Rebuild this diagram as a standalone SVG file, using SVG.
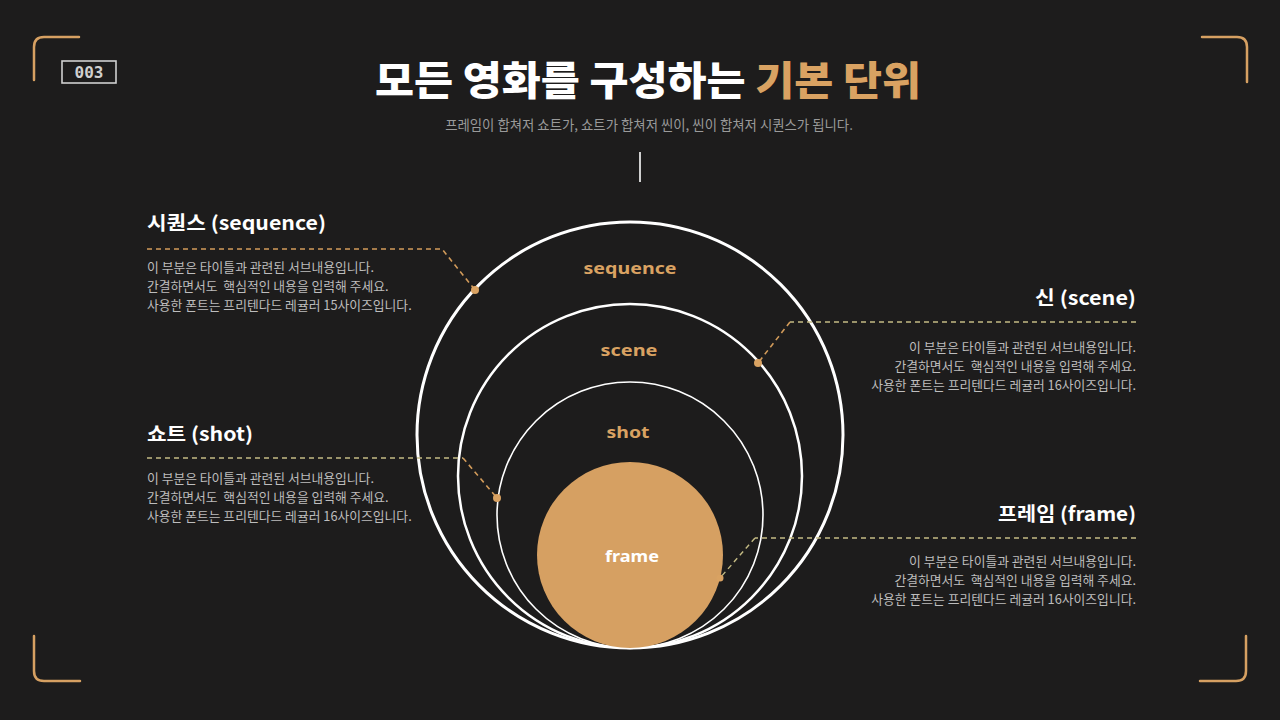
<svg xmlns="http://www.w3.org/2000/svg" width="1280" height="720" viewBox="0 0 1280 720">
<style>
.bg{fill:#1d1c1c}
.corner{fill:none;stroke:#d6a062;stroke-width:2.5;stroke-linecap:round}
.ring{fill:none;stroke:#ffffff}
.ttl{font-family:"Noto Sans CJK KR","Noto Sans",sans-serif;font-weight:900;fill:#ffffff}
.lbl{font-family:"Noto Sans CJK KR","Noto Sans",sans-serif;font-weight:700;fill:#ffffff;font-size:19px}
.body{font-family:"Noto Sans CJK KR","Noto Sans",sans-serif;font-size:12.8px;fill:#bdbdbd}
.inner{font-family:"Noto Sans","Noto Sans CJK KR",sans-serif;font-weight:700;font-size:16px;text-anchor:middle;fill:#d9a262}
.inner.w{fill:#ffffff}
.dashO{fill:none;stroke:#d29b5a;stroke-width:1.6;stroke-dasharray:5 4}
.dashY{fill:none;stroke:#c4bb84;stroke-width:1.4;stroke-dasharray:5 4}
.dot{fill:#d9a262}
</style>
<rect class="bg" x="0" y="0" width="1280" height="720"/>

<g id="corners">
<path class="corner" d="M34 80 V47 Q34 37 44 37 H79"/>
<path class="corner" d="M1202 37 H1237 Q1247 37 1247 47 V82"/>
<path class="corner" d="M34 636 V671 Q34 681 44 681 H80"/>
<path class="corner" d="M1246 636 V671 Q1246 681 1236 681 H1200"/>
</g>

<g id="page-number">
<rect x="62" y="61" width="54" height="22" fill="none" stroke="#d0d0d0" stroke-width="1.6"/>
<text x="89" y="78" text-anchor="middle" font-family="DejaVu Sans Mono,monospace" font-weight="700" font-size="16" fill="#d0d0d0">003</text>
</g>

<g id="title">
<text class="ttl" x="375" y="95" font-size="40" textLength="546" lengthAdjust="spacingAndGlyphs">모든 영화를 구성하는 <tspan fill="#d9a262">기본 단위</tspan></text>
<text x="649" y="130" text-anchor="middle" font-family="Noto Sans CJK KR,sans-serif" font-size="13.4" fill="#9a9a9a">프레임이 합쳐저 쇼트가, 쇼트가 합쳐저 씬이, 씬이 합쳐저 시퀀스가 됩니다.</text>
<line x1="640" y1="152" x2="640" y2="182" stroke="#cfcfcf" stroke-width="2"/>
</g>

<g id="circles">
<circle id="sequence-ring" class="ring" cx="630" cy="435" r="213" stroke-width="3"/>
<circle id="scene-ring" class="ring" cx="630" cy="476" r="172" stroke-width="2.5"/>
<circle id="shot-ring" class="ring" cx="630" cy="515" r="133" stroke-width="1.6"/>
<circle id="frame-disc" cx="630" cy="555" r="93" fill="#d6a062"/>
<text class="inner" x="630" y="274" textLength="93" lengthAdjust="spacingAndGlyphs">sequence</text>
<text class="inner" x="629" y="356" textLength="57" lengthAdjust="spacingAndGlyphs">scene</text>
<text class="inner" x="628" y="438" font-size="18" textLength="43" lengthAdjust="spacingAndGlyphs">shot</text>
<text class="inner w" x="632" y="562" textLength="54" lengthAdjust="spacingAndGlyphs">frame</text>
</g>

<g id="connectors">
<path class="dashO" d="M147 249 H442 L475 290"/>
<path class="dashY" d="M1136 322 H790"/>
<path class="dashO" d="M790 322 L758 363"/>
<path class="dashY" d="M147 458 H463"/>
<path class="dashO" d="M463 458 L497 498"/>
<path class="dashY" d="M1136 538 H755"/>
<path class="dashY" d="M755 538 L720 578"/>
<circle class="dot" cx="475" cy="290" r="4"/>
<circle class="dot" cx="758" cy="363" r="4"/>
<circle class="dot" cx="497" cy="498" r="4"/>
<circle class="dot" cx="720" cy="578" r="3.5"/>
</g>

<g id="node-sequence">
<text class="lbl" x="147" y="230" textLength="179" lengthAdjust="spacingAndGlyphs">시퀀스 (sequence)</text>
<text class="body" x="147" y="272">이 부분은 타이틀과 관련된 서브내용입니다.</text>
<text class="body" x="147" y="291" xml:space="preserve">간결하면서도  핵심적인 내용을 입력해 주세요.</text>
<text class="body" x="147" y="310">사용한 폰트는 프리텐다드 레귤러 15사이즈입니다.</text>
</g>

<g id="node-shot">
<text class="lbl" x="147" y="441" textLength="106" lengthAdjust="spacingAndGlyphs">쇼트 (shot)</text>
<text class="body" x="147" y="483">이 부분은 타이틀과 관련된 서브내용입니다.</text>
<text class="body" x="147" y="502" xml:space="preserve">간결하면서도  핵심적인 내용을 입력해 주세요.</text>
<text class="body" x="147" y="521">사용한 폰트는 프리텐다드 레귤러 16사이즈입니다.</text>
</g>

<g id="node-scene">
<text class="lbl" x="1136" y="305" text-anchor="end" textLength="101" lengthAdjust="spacingAndGlyphs">신 (scene)</text>
<text class="body" x="1136" y="352" text-anchor="end">이 부분은 타이틀과 관련된 서브내용입니다.</text>
<text class="body" x="1136" y="371" text-anchor="end" xml:space="preserve">간결하면서도  핵심적인 내용을 입력해 주세요.</text>
<text class="body" x="1136" y="390" text-anchor="end">사용한 폰트는 프리텐다드 레귤러 16사이즈입니다.</text>
</g>

<g id="node-frame">
<text class="lbl" x="1136" y="521" text-anchor="end" textLength="138" lengthAdjust="spacingAndGlyphs">프레임 (frame)</text>
<text class="body" x="1136" y="566" text-anchor="end">이 부분은 타이틀과 관련된 서브내용입니다.</text>
<text class="body" x="1136" y="585" text-anchor="end" xml:space="preserve">간결하면서도  핵심적인 내용을 입력해 주세요.</text>
<text class="body" x="1136" y="604" text-anchor="end">사용한 폰트는 프리텐다드 레귤러 16사이즈입니다.</text>
</g>
</svg>
